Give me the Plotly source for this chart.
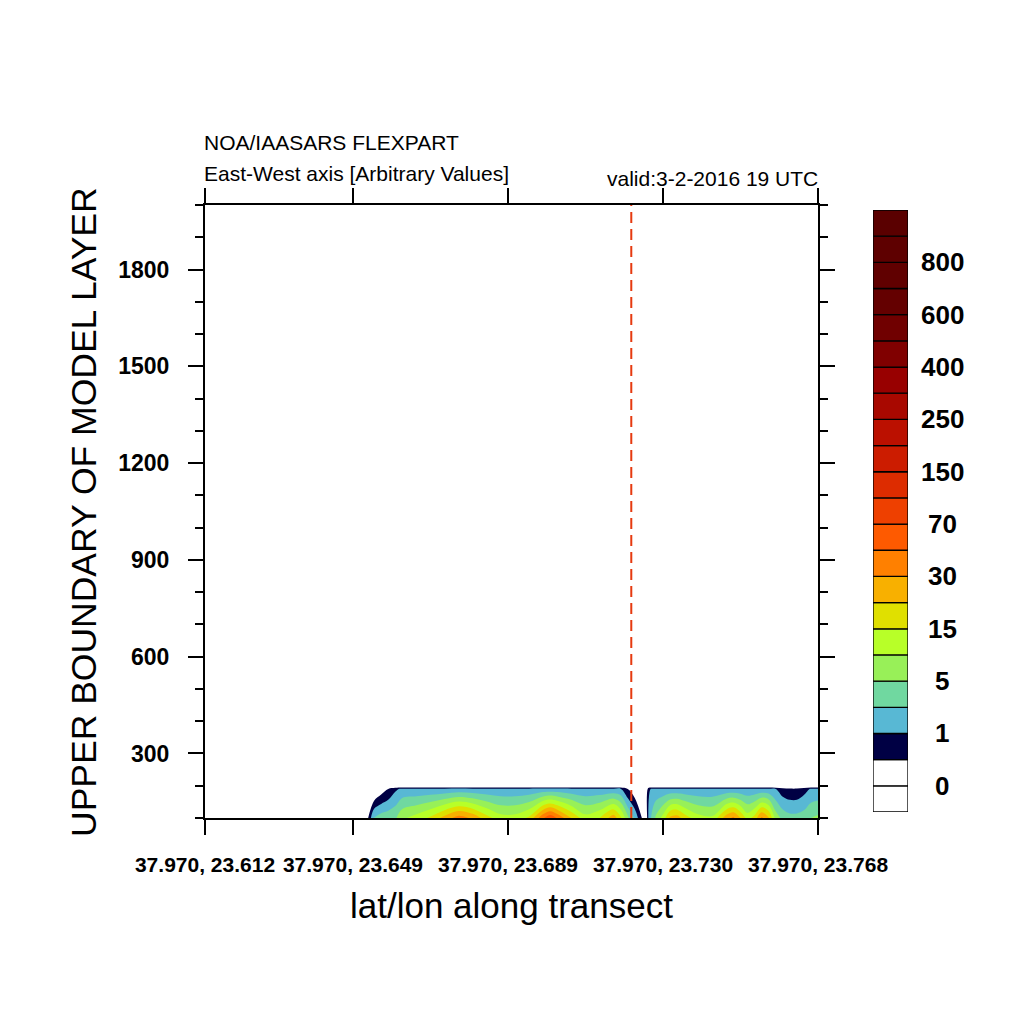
import numpy as np
import plotly.graph_objects as go

# ---------------- data ----------------
levels = [0, 0.5, 1, 2, 5, 10, 15, 20, 30, 50, 70, 100, 150, 200, 250,
          300, 400, 500, 600, 700, 800, 900]
box_colors = ['#ffffff', '#ffffff', '#000044', '#58b8d4', '#70d8a0', '#98f058',
              '#b8ff28', '#e0e000', '#f8b000', '#ff8000', '#fe5a00', '#ee4000',
              '#dd2c00', '#cc1c00', '#bb1000', '#a80800', '#980000', '#800000',
              '#700000', '#640000', '#600000', '#5e0000', '#5a0000']
cbar_labels = ["0", "1", "5", "15", "30", "70", "150", "250", "400", "600", "800"]
cbar_label_pos = [1, 3, 5, 7, 9, 11, 13, 15, 17, 19, 21]

tick_idx = [0, 21, 43, 65, 87]
tick_labels = ["37.970, 23.612", "37.970, 23.649", "37.970, 23.689",
               "37.970, 23.730", "37.970, 23.768"]

heights = [100, 190, 200, 2000]
x_idx = [0, 22, 23, 24, 25, 26, 27, 28, 30, 32, 34, 36, 38, 40, 42, 44, 46, 48,
         49, 50, 52, 54, 56, 58, 59, 60, 61, 62, 62.5, 63, 63.5, 64, 65, 66, 67,
         68, 70, 72, 74, 75, 76, 77, 78, 79, 80, 81, 82, 83, 84, 85, 86, 87]
conc_100 = [0, 0, 0.3, 2.5, 3.5, 4, 4.5, 9, 12, 16, 24, 40, 28, 17, 12, 12, 16, 48,
            65, 48, 20, 12, 15, 26, 16, 6, 1.8, 0.5, 0, 1.5, 3, 6, 12, 22, 25,
            18, 12, 11, 26, 34, 20, 13, 17, 34, 22, 8, 4, 3, 3, 3.5, 5, 6]
conc_190 = [0, 0, 0, 0, 0.2, 0.5, 0.9, 1.2, 1.2, 1.2, 1.2, 1.3, 1.2, 1.2, 1.2, 1.2,
            1.2, 1.3, 1.3, 1.3, 1.2, 1.2, 1.2, 1.2, 1.1, 0.5, 0.1, 0, 0, 0.9, 1.2,
            1.2, 1.2, 1.2, 1.2, 1.2, 1.2, 1.2, 1.2, 1.2, 1.2, 1.2, 1.2, 1.2, 1.2,
            1.0, 0.7, 0.6, 0.6, 0.8, 1.1, 1.2]
conc_200 = [0] * len(x_idx)
conc_2000 = [0] * len(x_idx)
valid_idx = 60.5

# ---------------- figure ----------------
FONT = "Liberation Sans, Arial, sans-serif"
OFF = 8  # page body margin offset in the browser


def px_x(p):
    return (p - OFF) / 1024


def px_y(p):
    return 1 - (p - OFF) / 1024


z_raw = np.array([conc_100, conc_190, conc_200, conc_2000], dtype=float)
z_lvl = np.where(z_raw <= 0, 0.5,
                 np.interp(z_raw, levels, np.arange(1, len(levels) + 1)))

n = len(box_colors)
cscale = []
for k, c in enumerate(box_colors):
    lo = max(0.0, (k - 0.5) / (n - 1))
    hi = min(1.0, (k + 0.5) / (n - 1))
    cscale.append([lo, c])
    cscale.append([hi, c])

fig = go.Figure()
fig.add_trace(go.Contour(
    x=x_idx, y=heights, z=z_lvl, colorscale=cscale, autocontour=False,
    contours=dict(start=1, end=len(levels), size=1, coloring='fill'),
    line=dict(width=0), showscale=False, hoverinfo='skip'))

fig.add_trace(go.Scatter(
    x=[valid_idx, valid_idx], y=[heights[0], heights[-1]], mode='lines',
    line=dict(color='#e63a10', width=2, dash='11px,6px'),
    showlegend=False, hoverinfo='skip'))

fig.add_trace(go.Bar(
    x=[0] * n, y=[1] * n, base=list(range(n)), width=1,
    marker=dict(color=box_colors, line=dict(color='black', width=1.3)),
    xaxis='x2', yaxis='y2', showlegend=False, hoverinfo='skip',
    cliponaxis=False))

annotations = []
for lab, pos in zip(cbar_labels, cbar_label_pos):
    annotations.append(dict(x=px_x(942), y=pos, xref='paper', yref='y2',
                            text=lab, showarrow=False, xanchor='center',
                            yanchor='middle',
                            font=dict(family=FONT, size=26, color='black',
                                      weight='bold')))


def txt(text, x, y, size, xanchor='left', angle=0):
    return dict(x=px_x(x), y=px_y(y), xref='paper', yref='paper',
                text=text, showarrow=False, xanchor=xanchor, yanchor='middle',
                textangle=angle,
                font=dict(family=FONT, size=size, color='black'))


annotations += [
    txt("NOA/IAASARS FLEXPART", 202, 142, 21),
    txt("East-West axis [Arbitrary Values]", 202, 173, 21),
    txt("valid:3-2-2016 19 UTC", 820, 178, 21, xanchor='right'),
    txt("lat/lon along transect", 511, 905, 35, xanchor='center'),
    txt("UPPER BOUNDARY OF MODEL LAYER", 84, 512, 35.5, xanchor='center', angle=-90),
]

fig.update_layout(
    template='none',
    width=1024, height=1024, margin=dict(l=0, r=0, t=0, b=0, autoexpand=False),
    paper_bgcolor='white', plot_bgcolor='white', showlegend=False,
    barmode='overlay',
    xaxis=dict(domain=[px_x(205), px_x(818)], range=[0, 87], automargin=False,
               tickvals=tick_idx, ticktext=tick_labels, ticks='outside',
               ticklen=15, tickwidth=2, tickcolor='black', showline=True,
               linewidth=2, linecolor='black', mirror='ticks', showgrid=False,
               zeroline=False, ticklabelstandoff=12,
               tickfont=dict(family=FONT, size=21, color='black', weight='bold')),
    yaxis=dict(domain=[px_y(818), px_y(205)], range=[100, 2000], automargin=False,
               tick0=0, dtick=300, ticks='outside', ticklen=15, tickwidth=2,
               tickcolor='black', showline=True, linewidth=2, linecolor='black',
               mirror='ticks', showgrid=False, zeroline=False,
               ticklabelstandoff=14,
               minor=dict(tick0=0, dtick=100, ticks='outside', ticklen=8,
                          tickwidth=2, tickcolor='black', showgrid=False),
               tickfont=dict(family=FONT, size=23, color='black', weight='bold')),
    xaxis2=dict(domain=[px_x(873), px_x(908)], range=[-0.5, 0.5],
                visible=False, anchor='y2', fixedrange=True, automargin=False),
    yaxis2=dict(domain=[px_y(812), px_y(210)], range=[0, n],
                visible=False, anchor='x2', fixedrange=True, automargin=False),
    annotations=annotations,
)

fig.write_html("out.html")
